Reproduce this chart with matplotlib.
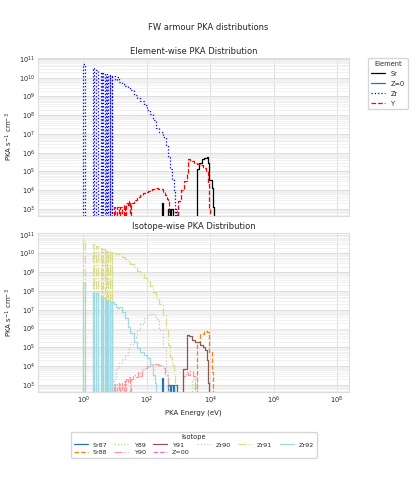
import numpy as np
import matplotlib
matplotlib.use('Agg')
import matplotlib.pyplot as plt
import seaborn as sns
from matplotlib.ticker import LogLocator, NullLocator, NullFormatter

sns.set_style('whitegrid')
plt.rcParams['font.family'] = ['DejaVu Sans']

# low-energy discrete bins (eV): left / right edges
spike_lo = [1.0, 2.0, 2.6, 3.6, 4.3, 5.2, 6.1, 7.1]
spike_hi = [1.1, 2.2, 2.85, 3.95, 4.7, 5.7, 6.7, 7.8]

# ---- element-wise ----
zr_spikes = [5.4e10, 3.2e10, 2.7e10, 2.0e10, 1.8e10, 1.6e10, 1.4e10, 1.25e10]
zr_e = [8.0, 10.0, 11.5, 13, 16, 20, 25, 30, 40, 50, 62, 80, 100, 125, 160, 200,
        250, 320, 400, 480, 550, 620, 700, 770, 800, 830, 900]
zr_v = [1.2e10, 8e9, 1.1e10, 6.3e9, 4.5e9, 3.5e9, 2.75e9, 2.1e9, 1.2e9, 8.3e8, 6.0e8,
        3.5e8, 2.0e8, 1.1e8, 5.6e7, 2.2e7, 1.3e7, 7e6, 2.5e6, 5.6e5, 1.3e5, 3.5e4,
        8e3, 1.1e3, 0, 1.05e3, 0]

y_e = [9.0, 10.2, 11.5, 13, 14.5, 16, 19, 21, 23, 26, 28, 30,
       33, 40, 48, 55, 62, 75, 90, 110, 125, 150, 180, 220, 260, 320, 380, 440, 480, 500,
       1000, 1200, 1500, 1800, 2000, 2400, 3000, 3800, 4800, 6000, 7500, 8500, 9300, 10000]
y_v = [1.2e3, 0, 1.3e3, 0, 1.3e3, 0, 1.6e3, 0, 2e3, 1.5e3, 2.5e3, 0,
       2.2e3, 3.0e3, 3.9e3, 4.5e3, 5.6e3, 7e3, 8.3e3, 9e3, 1.02e4, 1.1e4, 1.26e4, 1.2e4,
       1.12e4, 8e3, 5.6e3, 3.5e3, 2.5e3, 0,
       2.5e3, 1e4, 3e4, 8e4, 4.5e5, 3.6e5, 3.0e5, 2.4e5, 2.2e5, 1.5e5, 1.0e5, 2.3e4, 1.1e3, 0]

sr_e = [300, 330, 480, 560, 600, 690,
        3800, 4300, 5400, 6200, 7800, 8700, 9300, 11200, 12500, 13500]
sr_v = [2.2e3, 0, 1.05e3, 0, 1.05e3, 0,
        1.3e5, 2.8e5, 4.5e5, 5.5e5, 6.2e5, 2.8e5, 3.5e4, 1.26e4, 1.3e3, 0]

z0_e = []
z0_v = []

# ---- isotope-wise ----
sr87_e = [300, 330, 480, 560, 600, 690, 750, 880]
sr87_v = [2.3e3, 0, 1.05e3, 0, 1.05e3, 0, 1.05e3, 0]

sr88_e = [3800, 4800, 6200, 7800, 9300, 11200, 12500]
sr88_v = [1.9e5, 5.2e5, 7.0e5, 6.5e5, 5.6e4, 4.9e3, 0]

y89_e = [2600, 3000, 3500, 3900]
y89_v = [2.2e3, 3e3, 2e3, 0]

y90_e = [9.0, 10.2, 11.5, 13, 14.5, 16, 19, 21, 23, 26, 28, 30,
         33, 38, 45, 52, 62, 70, 85, 100, 125, 150, 180, 220, 260, 320, 380, 440, 480,
         1400, 1700, 2000, 2400, 2900, 3300]
y90_v = [1.2e3, 0, 1.3e3, 0, 1.3e3, 0, 1.6e3, 0, 2e3, 1.5e3, 2.5e3, 0,
         2.2e3, 3.5e3, 2.5e3, 5e3, 3e3, 7e3, 8e3, 1.0e4, 1.2e4, 1.1e4, 1.35e4, 1.2e4,
         1.1e4, 8e3, 4e3, 2.5e3, 0,
         3e3, 5e3, 3.5e3, 5.5e3, 3e3, 0]

y91_e = [1400, 1800, 2200, 2600, 3300, 4700, 5800, 6900, 8100, 8700, 9000]
y91_v = [7.4e3, 4.7e5, 4.0e5, 2.5e5, 2.0e5, 1.3e5, 1.0e5, 7.2e4, 2.1e4, 1.2e3, 0]

z00_e = []
z00_v = []

zr90_e = [9, 11, 13, 16, 20, 25, 30, 40, 50, 62, 80, 100, 125, 160, 200, 250, 320,
          400, 470, 500]
zr90_v = [2.2e3, 8e3, 1.5e4, 2.5e4, 4e4, 8e4, 1.5e5, 3.5e5, 8e5, 1.8e6, 3.5e6, 5.5e6,
          6.3e6, 5.5e6, 3.2e6, 8e5, 1.0e5, 5e3, 1.2e3, 0]

zr91_spikes = [5.4e10, 3.0e10, 2.6e10, 1.9e10, 1.7e10, 1.5e10, 1.35e10, 1.2e10]
zr91_e = [8.0, 9.0, 10.5, 13, 16, 20, 25, 30, 40, 50, 62, 80, 100, 125, 160, 200, 250,
          320, 400, 480, 550, 620, 700, 770, 800]
zr91_v = [1.25e10, 1.05e10, 9.3e9, 1.0e10, 6.8e9, 5.0e9, 3.5e9, 2.7e9, 1.8e9, 1.2e9,
          8.1e8, 5.0e8, 3.2e8, 1.95e8, 9.3e7, 4.5e7, 2.0e7, 5.6e6, 1.0e6, 1.3e5, 3.2e4,
          1.1e4, 3.2e3, 1.2e3, 0]

zr92_spikes = [2.7e8, 8.7e7, 7.6e7, 4.7e7, 4.0e7, 3.3e7, 2.8e7, 2.5e7]
zr92_e = [8.0, 9.0, 10.5, 11.5, 13, 16, 20, 25, 30, 40, 50, 62, 80, 100, 125, 160, 180, 190]
zr92_v = [2.5e7, 2.0e7, 1.4e7, 1.2e7, 1.4e7, 8e6, 3.5e6, 1.26e6, 5.6e5, 2e5, 9e4, 5.6e4,
          4e4, 2.8e4, 1.26e4, 3.5e3, 1.26e3, 0]


def steps(e, v, spikes=None):
    x, y = [0.5], [0.0]
    if spikes is not None:
        for a, b, h in zip(spike_lo, spike_hi, spikes):
            x += [a, b]
            y += [h, 0.0]
    return x + list(e), y + list(v)


tab20 = plt.get_cmap('tab20').colors

elements = [
    ('Sr', steps(sr_e, sr_v), 'black', '-'),
    ('Z=0', (z0_e, z0_v), tab20[0], '-'),
    ('Zr', steps(zr_e, zr_v, zr_spikes), 'blue', ':'),
    ('Y', steps(y_e, y_v), 'red', '--'),
]

isotopes = [
    ('Sr87', steps(sr87_e, sr87_v), tab20[0], '-'),
    ('Sr88', steps(sr88_e, sr88_v), tab20[2], '--'),
    ('Y89', steps(y89_e, y89_v), tab20[5], ':'),
    ('Y90', steps(y90_e, y90_v), tab20[7], '-.'),
    ('Y91', steps(y91_e, y91_v), tab20[10], '-'),
    ('Z=00', (z00_e, z00_v), tab20[12], '--'),
    ('Zr90', steps(zr90_e, zr90_v), tab20[15], ':'),
    ('Zr91', steps(zr91_e, zr91_v, zr91_spikes), tab20[17], '-.'),
    ('Zr92', steps(zr92_e, zr92_v, zr92_spikes), tab20[19], '-'),
]

fig = plt.figure(figsize=(4.16, 5.0), dpi=100)
ax1 = fig.add_axes([0.0906, 0.5686, 0.749, 0.316])
ax2 = fig.add_axes([0.0906, 0.2166, 0.749, 0.3168])

for ax in (ax1, ax2):
    ax.set_xscale('log')
    ax.set_yscale('log')

for name, (x, y), c, ls in elements:
    ax1.step(x, y, where='post', color=c, linestyle=ls, lw=0.9, label=name)

for name, (x, y), c, ls in isotopes:
    ax2.step(x, y, where='post', color=c, linestyle=ls, lw=0.9, label=name)

for ax in (ax1, ax2):
    ax.set_xlim(10**-1.44, 10**8.39)
    ax.set_ylim(10**2.64, 10**11.07)
    ax.set_xticks([1e0, 1e2, 1e4, 1e6, 1e8])
    ax.xaxis.set_minor_locator(NullLocator())
    ax.yaxis.set_major_locator(LogLocator(base=10, numticks=20))
    ax.yaxis.set_minor_locator(LogLocator(base=10, subs=np.arange(2, 10), numticks=20))
    ax.yaxis.set_minor_formatter(NullFormatter())
    ax.grid(True, which='major', color='#dcdcdc', lw=0.7)
    ax.yaxis.grid(True, which='minor', color='#ececec', lw=0.5)
    ax.tick_params(labelsize=4.8, pad=2, length=0, which='both')
    ax.set_ylabel('PKA s$^{-1}$ cm$^{-3}$', fontsize=5, labelpad=3)
    for s in ax.spines.values():
        s.set_color('#dddddd')
        s.set_linewidth(0.8)

ax1.tick_params(labelbottom=False)
ax1.set_title('Element-wise PKA Distribution', fontsize=6, pad=3)
ax2.set_title('Isotope-wise PKA Distribution', fontsize=6, pad=3)
ax2.set_xlabel('PKA Energy (eV)', fontsize=5, labelpad=3)

fig.suptitle('FW armour PKA distributions', fontsize=6, y=0.944, va='center')

leg1 = ax1.legend(title='Element', loc='upper left', bbox_to_anchor=(0.8846, 0.884),
                  bbox_transform=fig.transFigure, fontsize=4.8, title_fontsize=4.8,
                  borderaxespad=0, handlelength=2.2, labelspacing=0.6)
leg2 = ax2.legend(title='Isotope', loc='upper center', bbox_to_anchor=(0.4659, 0.1366),
                  bbox_transform=fig.transFigure, ncol=6, fontsize=4.6, title_fontsize=4.8,
                  borderaxespad=0, handlelength=2.2, columnspacing=1.1, labelspacing=0.3)

fig.savefig('out.png', dpi=100)
